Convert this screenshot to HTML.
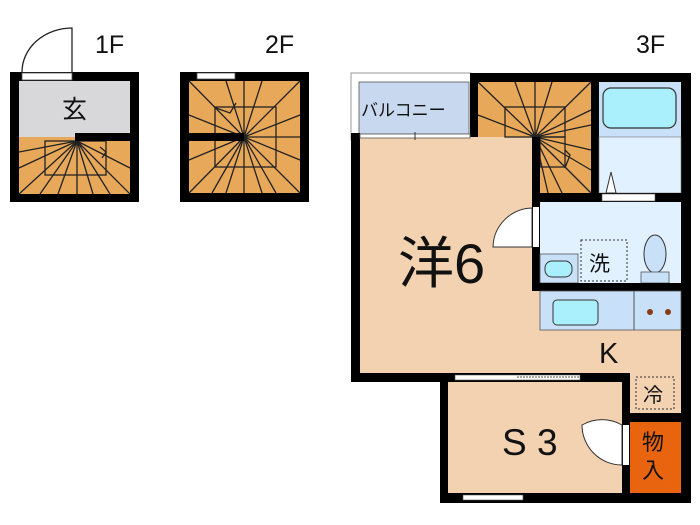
<!DOCTYPE html>
<html><head><meta charset="utf-8"><style>
html,body{margin:0;padding:0;background:#fff;width:700px;height:525px;overflow:hidden}
svg text{font-family:"Liberation Sans","Noto Sans CJK JP",sans-serif}
</style></head><body>
<svg width="700" height="525" viewBox="0 0 700 525" xmlns="http://www.w3.org/2000/svg">
<text x="95" y="53" font-size="25" fill="#111">1F</text>
<text x="265" y="53" font-size="25" fill="#111">2F</text>
<text x="636" y="53" font-size="25" fill="#111">3F</text>

<!-- 1F -->
<rect x="10" y="72" width="129" height="130" fill="#000"/>
<rect x="19" y="81" width="111" height="56" fill="#d8d8da"/>
<rect x="19" y="137" width="111" height="57" fill="#e8a85a"/>
<g stroke="#222" stroke-width="1.3" fill="none">
<rect x="45" y="141" width="61" height="34"/>
<line x1="77" y1="141" x2="19" y2="194"/><line x1="77" y1="141" x2="40" y2="194"/>
<line x1="77" y1="141" x2="58" y2="194"/><line x1="77" y1="141" x2="77" y2="194"/>
<line x1="77" y1="141" x2="93" y2="194"/><line x1="77" y1="141" x2="110" y2="194"/>
<line x1="77" y1="141" x2="130" y2="194"/><line x1="77" y1="141" x2="19" y2="168"/>
<line x1="77" y1="141" x2="130" y2="168"/><line x1="77" y1="141" x2="19" y2="152"/>
<polyline points="100,147 106,152 102,158"/>
</g>
<rect x="75" y="133" width="55" height="8" fill="#000"/>
<rect x="22" y="73" width="50" height="7" fill="#fff" stroke="#555" stroke-width="0.8"/>
<path d="M22 72 A50 44 0 0 1 72 28 L72 72" fill="none" stroke="#222" stroke-width="1.3"/>
<text x="62" y="118" font-size="25" fill="#111">玄</text>

<!-- 2F -->
<rect x="180" y="72" width="129" height="130" fill="#000"/>
<rect x="189" y="81" width="111" height="112" fill="#e8a85a"/>
<g stroke="#222" stroke-width="1.3" fill="none">
<rect x="215" y="107" width="61" height="60"/>
<line x1="244" y1="137" x2="189" y2="81"/><line x1="244" y1="137" x2="300" y2="81"/>
<line x1="244" y1="137" x2="189" y2="193"/><line x1="244" y1="137" x2="300" y2="193"/>
<line x1="244" y1="137" x2="226" y2="81"/><line x1="244" y1="137" x2="244" y2="81"/><line x1="244" y1="137" x2="262" y2="81"/>
<line x1="244" y1="137" x2="226" y2="193"/><line x1="244" y1="137" x2="244" y2="193"/><line x1="244" y1="137" x2="262" y2="193"/>
<line x1="244" y1="137" x2="212" y2="193"/><line x1="244" y1="137" x2="276" y2="193"/>
<line x1="244" y1="137" x2="189" y2="115"/><line x1="244" y1="137" x2="189" y2="160"/>
<line x1="244" y1="137" x2="300" y2="115"/><line x1="244" y1="137" x2="300" y2="160"/><line x1="244" y1="137" x2="300" y2="137"/>
<polyline points="216,108 230,113 236,103"/>
</g>
<rect x="189" y="133" width="55" height="8" fill="#000"/>
<rect x="197" y="73" width="38" height="6" fill="#fff" stroke="#555" stroke-width="0.8"/>

<!-- 3F -->
<rect x="351" y="73" width="120" height="67" fill="#fff" stroke="#999" stroke-width="1"/>
<rect x="359" y="82" width="110" height="52" fill="#c8d8ee" stroke="#555" stroke-width="0.8"/>
<text x="361" y="116" font-size="17" fill="#111">バルコニー</text>
<rect x="351" y="133" width="9" height="249" fill="#000"/>
<rect x="470" y="73" width="221" height="9" fill="#000"/>
<rect x="470" y="73" width="8" height="67" fill="#000"/>
<rect x="681" y="73" width="10" height="430" fill="#000"/>
<rect x="360" y="137" width="321" height="236" fill="#f3d2b2"/>
<rect x="630" y="370" width="51" height="45" fill="#f3d2b2"/>
<rect x="360" y="134" width="110" height="4" fill="#fff" stroke="#555" stroke-width="0.8"/>
<line x1="415" y1="132" x2="415" y2="140" stroke="#333"/>
<rect x="478" y="82" width="114" height="55" fill="#e8a85a"/>
<rect x="540" y="137" width="52" height="56" fill="#e8a85a"/>
<g stroke="#222" stroke-width="1.3" fill="none">
<rect x="505" y="107" width="60" height="30"/>
<rect x="540" y="137" width="25" height="30"/>
<line x1="535" y1="137" x2="478" y2="82"/><line x1="535" y1="137" x2="515" y2="82"/>
<line x1="535" y1="137" x2="535" y2="82"/><line x1="535" y1="137" x2="552" y2="82"/>
<line x1="535" y1="137" x2="591" y2="82"/><line x1="535" y1="137" x2="478" y2="115"/>
<line x1="535" y1="137" x2="591" y2="110"/><line x1="535" y1="137" x2="591" y2="125"/>
<line x1="535" y1="137" x2="591" y2="150"/><line x1="535" y1="137" x2="591" y2="170"/>
<line x1="535" y1="137" x2="591" y2="193"/><line x1="535" y1="137" x2="562" y2="193"/>
<line x1="535" y1="137" x2="548" y2="193"/>
<polyline points="565,150 570,155 565,168"/>
</g>
<rect x="532" y="137" width="8" height="154" fill="#000"/>
<rect x="591" y="73" width="8" height="129" fill="#000"/>
<rect x="599" y="82" width="82" height="55" fill="#c8e0f8"/>
<rect x="603" y="88" width="73" height="40" rx="8" fill="#aaf0fc" stroke="#333" stroke-width="1.2"/>
<rect x="599" y="137" width="82" height="56" fill="#e2f1ff" stroke="#777" stroke-width="0.6"/>
<polygon points="606,193 611,172 616,193" fill="#fff" stroke="#333"/>
<rect x="532" y="193" width="159" height="9" fill="#000"/>
<rect x="602" y="194" width="53" height="7" fill="#fff" stroke="#555" stroke-width="0.6"/>
<rect x="540" y="202" width="141" height="81" fill="#e2f1ff"/>
<rect x="533" y="207" width="6" height="40" fill="#fff"/>
<path d="M532 208 A40 40 0 0 0 493 247 L532 247 Z" fill="#fff" stroke="#333" stroke-width="1"/>
<rect x="540" y="254" width="38" height="29" fill="#c8e0f8" stroke="#555" stroke-width="0.8"/>
<rect x="545" y="261" width="27" height="16" rx="7" fill="#aaf0fc" stroke="#333"/>
<rect x="581" y="240" width="46" height="41" fill="none" stroke="#333" stroke-dasharray="2,2"/>
<text x="589" y="271" font-size="21" fill="#111">洗</text>
<ellipse cx="655" cy="254" rx="11" ry="19" fill="#c8e0f8" stroke="#333"/>
<rect x="641" y="272" width="28" height="11" fill="#c8e0f8" stroke="#555" stroke-width="0.8"/>
<rect x="532" y="283" width="159" height="8" fill="#000"/>
<rect x="540" y="291" width="141" height="39" fill="#c8e0f8" stroke="#555" stroke-width="0.8"/>
<line x1="634" y1="291" x2="634" y2="330" stroke="#555"/>
<rect x="553" y="300" width="45" height="25" rx="4" fill="#aaf0fc" stroke="#333"/>
<circle cx="650" cy="312" r="3" fill="#8a3a10"/><circle cx="668" cy="312" r="3" fill="#8a3a10"/>
<text x="599" y="363" font-size="29" fill="#111">K</text>
<text x="398" y="283" font-size="56" fill="#111">洋6</text>
<rect x="351" y="373" width="279" height="9" fill="#000"/>
<rect x="455" y="375" width="125" height="5" fill="#fff" stroke="#555" stroke-width="0.6"/>
<line x1="517" y1="377" x2="580" y2="377" stroke="#555" stroke-dasharray="2,1"/>
<rect x="440" y="373" width="8" height="130" fill="#000"/>
<rect x="448" y="382" width="174" height="111" fill="#f3d2b2"/>
<rect x="440" y="493" width="251" height="10" fill="#000"/>
<rect x="463" y="495" width="60" height="5" fill="#fff" stroke="#555" stroke-width="0.6"/>
<rect x="622" y="373" width="8" height="130" fill="#000"/>
<rect x="630" y="413" width="51" height="9" fill="#000"/>
<rect x="636" y="377" width="38" height="32" fill="none" stroke="#333" stroke-dasharray="2,2"/>
<text x="643" y="402" font-size="20" fill="#111">冷</text>
<rect x="630" y="422" width="51" height="71" fill="#e8640f"/>
<text x="642" y="450" font-size="22" fill="#111">物</text>
<text x="642" y="478" font-size="22" fill="#111">入</text>
<rect x="623" y="425" width="6" height="40" fill="#fff"/>
<path d="M622 425 A40 40 0 0 0 582 425 A40 40 0 0 0 622 465 Z" fill="#fff" stroke="#333"/>
<text x="502" y="455" font-size="37" fill="#111">S 3</text>
</svg>
</body></html>
